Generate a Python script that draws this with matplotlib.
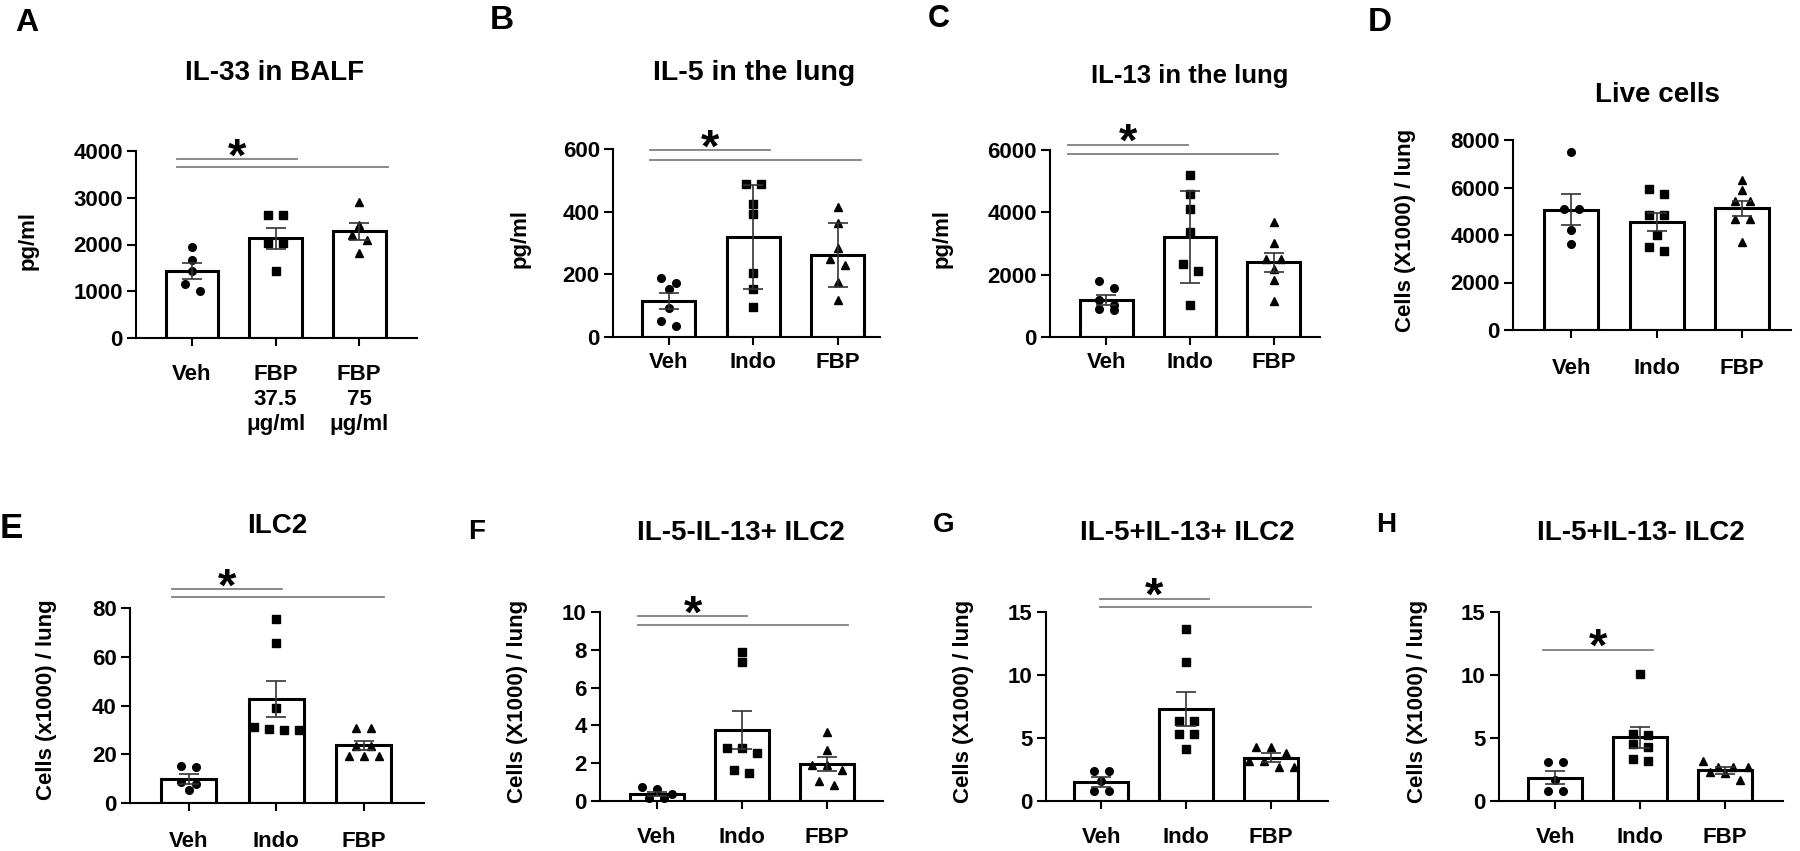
import numpy as np
import matplotlib.pyplot as plt

plt.rcParams['font.family'] = ['Liberation Sans', 'DejaVu Sans']
plt.rcParams['font.weight'] = 'bold'

W, H = 1800, 851

# ---- data ----
groups_3 = ['Veh', 'Indo', 'FBP']
groups_a = ['Veh', 'FBP\n37.5\nμg/ml', 'FBP\n75\nμg/ml']

# A  IL-33 in BALF (pg/ml)
a_pts = [[1939, 1676, 1426, 1148, 1005],
         [2624, 2624, 2032, 2032, 1426],
         [2909, 2410, 2196, 2103, 1818]]
a_mean = [1426, 2132, 2282]
a_err = [171, 225, 182]

# B  IL-5 in the lung (pg/ml)
b_pts = [[187, 173, 153, 94, 51, 35],
         [489, 489, 425, 392, 203, 152, 95],
         [415, 365, 283, 248, 230, 176, 118]]
b_mean = [114, 318, 262]
b_err = [26, 166, 103]

# C  IL-13 in the lung (pg/ml)
c_pts = [[1800, 1564, 1200, 1018, 911, 857],
         [5186, 4596, 4104, 3364, 2357, 2121, 1039],
         [3675, 3021, 2496, 2496, 2175, 1821, 1157]]
c_mean = [1200, 3214, 2400]
c_err = [160, 1474, 310]

# D  Live cells
d_pts = [[7494, 5104, 5104, 4218, 3627],
         [5947, 5736, 4837, 4837, 3979, 3487, 3346],
         [6299, 5877, 5413, 5413, 4668, 4668, 3726]]
d_mean = [5062, 4556, 5118]
d_err = [654, 386, 316]

# E  ILC2
e_pts = [[15.0, 14.8, 8.6, 7.7, 5.2],
         [75.4, 65.8, 39.0, 31.2, 30.5, 29.8, 29.8],
         [30.8, 30.8, 23.3, 23.3, 19.3, 19.3, 19.3]]
e_mean = [9.85, 42.7, 23.7]
e_err = [2.15, 7.3, 1.9]

# F  IL-5-IL-13+ ILC2
f_pts = [[0.74, 0.62, 0.35, 0.15, 0.15],
         [7.88, 7.33, 2.78, 2.78, 2.55, 1.66, 1.50],
         [3.63, 2.72, 1.93, 1.93, 1.63, 1.04, 0.87]]
f_mean = [0.39, 3.75, 1.95]
f_err = [0.11, 1.02, 0.36]

# G  IL-5+IL-13+ ILC2
g_pts = [[2.39, 2.39, 1.57, 0.77, 0.77],
         [13.65, 11.07, 6.37, 6.37, 5.31, 5.31, 4.09],
         [4.30, 4.30, 3.77, 3.16, 3.16, 2.71, 2.71]]
g_mean = [1.51, 7.30, 3.45]
g_err = [0.36, 1.36, 0.33]

# H  IL-5+IL-13- ILC2
h_pts = [[3.11, 3.11, 1.70, 0.80, 0.80],
         [10.1, 5.3, 5.2, 4.5, 4.3, 3.3, 3.2],
         [3.16, 2.71, 2.71, 2.71, 2.3, 2.2, 1.7]]
h_mean = [1.86, 5.04, 2.44]
h_err = [0.53, 0.86, 0.27]

# significance bars: (x start, x end, y)
a_sig = [(-0.18, 1.26, 3822), (-0.18, 2.34, 3651)]
b_sig = [(-0.22, 1.20, 596), (-0.22, 2.27, 565)]
c_sig = [(-0.45, 0.98, 6161), (-0.45, 2.05, 5882)]
e_sig = [(-0.19, 1.07, 87.7), (-0.19, 2.23, 84.5)]
f_sig = [(-0.22, 1.06, 9.77), (-0.22, 2.25, 9.33)]
g_sig = [(-0.02, 1.27, 16.06), (-0.02, 2.47, 15.37)]
h_sig = [(-0.14, 1.15, 12.0)]

markers = ['o', 's', '^']


def swarm(vals, sy, sx, step_px=15, thresh_px=8):
    vals = np.asarray(vals, float)
    order = np.argsort(-vals, kind='stable')
    rows, cur = [], [order[0]]
    for i in order[1:]:
        if abs(vals[cur[0]] - vals[i]) * sy < thresh_px:
            cur.append(i)
        else:
            rows.append(cur)
            cur = [i]
    rows.append(cur)
    off = np.zeros(len(vals))
    for row in rows:
        n = len(row)
        for k, i in enumerate(row):
            off[i] = (k - (n - 1) / 2) * step_px / sx
    return off


def panel(fig, box, xlim, yticks, labels, pts, mean, err, sig, title, tpos,
          letter, lpos, ylabel, ypos, xpad=14, tsize=20, lsize=22):
    left, right, top, bottom = box
    ax = fig.add_axes([left / W, 1 - bottom / H, (right - left) / W, (bottom - top) / H])
    ymax = yticks[-1]
    ax.set_xlim(*xlim)
    ax.set_ylim(0, ymax)
    sx = (right - left) / (xlim[1] - xlim[0])
    sy = (bottom - top) / ymax
    x = np.arange(3)
    ax.bar(x, mean, width=0.63, color='white', edgecolor='black', linewidth=2.2, zorder=1)
    for i in range(3):
        off = swarm(pts[i], sy, sx)
        ax.plot(x[i] + off, pts[i], linestyle='none', marker=markers[i], color='black',
                markersize=5.5, zorder=3, clip_on=False)
    ax.errorbar(x, mean, yerr=err, fmt='none', ecolor='#333333', elinewidth=1.2,
                capsize=7, capthick=1.2, zorder=4)
    for j, (x0, x1, y) in enumerate(sig):
        ax.plot([x0, x1], [y, y], color='#808080', linewidth=1.3, clip_on=False)
        if j == 0:
            ax.annotate('*', xy=((x0 + x1) / 2, y), xytext=(0, -8), textcoords='offset points',
                        ha='center', va='baseline', fontsize=34, annotation_clip=False)
    for s in ['top', 'right']:
        ax.spines[s].set_visible(False)
    for s in ['left', 'bottom']:
        ax.spines[s].set_linewidth(1.5)
    ax.set_yticks(yticks)
    ax.set_xticks(x)
    ax.set_xticklabels(labels, linespacing=1.25, va='top')
    ax.tick_params(axis='y', length=6.5, width=1.5, pad=3, labelsize=16)
    ax.tick_params(axis='x', length=6, width=1.5, pad=xpad, labelsize=16)
    fig.text(tpos[0] / W, 1 - tpos[1] / H, title, ha='center', va='baseline', fontsize=tsize)
    fig.text(lpos[0] / W, 1 - lpos[1] / H, letter, ha='left', va='baseline', fontsize=lsize)
    fig.text(ypos[0] / W, 1 - ypos[1] / H, ylabel, ha='center', va='center',
             rotation=90, fontsize=16)
    return ax


fig = plt.figure(figsize=(18, 8.51), dpi=100)

cells_X = 'Cells (X1000) / lung'

panel(fig, (136, 417, 151, 338), (-0.67, 2.69), [0, 1000, 2000, 3000, 4000], groups_a,
      a_pts, a_mean, a_err, a_sig, 'IL-33 in BALF', (275, 80), 'A', (15, 31),
      'pg/ml', (28, 240), xpad=13, lsize=23)
panel(fig, (613, 880, 149, 337), (-0.66, 2.50), [0, 200, 400, 600], groups_3,
      b_pts, b_mean, b_err, b_sig, 'IL-5 in the lung', (754, 80), 'B', (490, 29),
      'pg/ml', (520, 238), xpad=5, tsize=20.5, lsize=24)
panel(fig, (1050, 1320, 150, 337), (-0.67, 2.55), [0, 2000, 4000, 6000], groups_3,
      c_pts, c_mean, c_err, c_sig, 'IL-13 in the lung', (1190, 83), 'C', (928, 27),
      'pg/ml', (942, 239), xpad=5, tsize=18.5, lsize=22)
panel(fig, (1513, 1791, 140, 330), (-0.68, 2.57), [0, 2000, 4000, 6000, 8000], groups_3,
      d_pts, d_mean, d_err, [], 'Live cells', (1657, 102), 'D', (1368, 31),
      cells_X, (1406, 230), xpad=14, lsize=24)
panel(fig, (130, 424, 608, 803), (-0.67, 2.69), [0, 20, 40, 60, 80], groups_3,
      e_pts, e_mean, e_err, e_sig, 'ILC2', (277, 533), 'E', (0, 538),
      'Cells (x1000) / lung', (47, 700), xpad=14, lsize=25)
panel(fig, (600, 883, 612, 801), (-0.67, 2.66), [0, 2, 4, 6, 8, 10], groups_3,
      f_pts, f_mean, f_err, f_sig, 'IL-5-IL-13+ ILC2', (741, 540), 'F', (468, 539),
      cells_X, (518, 701), xpad=13, lsize=20)
panel(fig, (1046, 1328, 612, 801), (-0.65, 2.67), [0, 5, 10, 15], groups_3,
      g_pts, g_mean, g_err, g_sig, 'IL-5+IL-13+ ILC2', (1187, 540), 'G', (933, 532),
      cells_X, (964, 701), xpad=13, lsize=20)
panel(fig, (1499, 1783, 612, 801), (-0.66, 2.68), [0, 5, 10, 15], groups_3,
      h_pts, h_mean, h_err, h_sig, 'IL-5+IL-13- ILC2', (1641, 540), 'H', (1376, 532),
      cells_X, (1417, 701), xpad=13, lsize=20)

fig.savefig('out.png', dpi=100, facecolor='white')
